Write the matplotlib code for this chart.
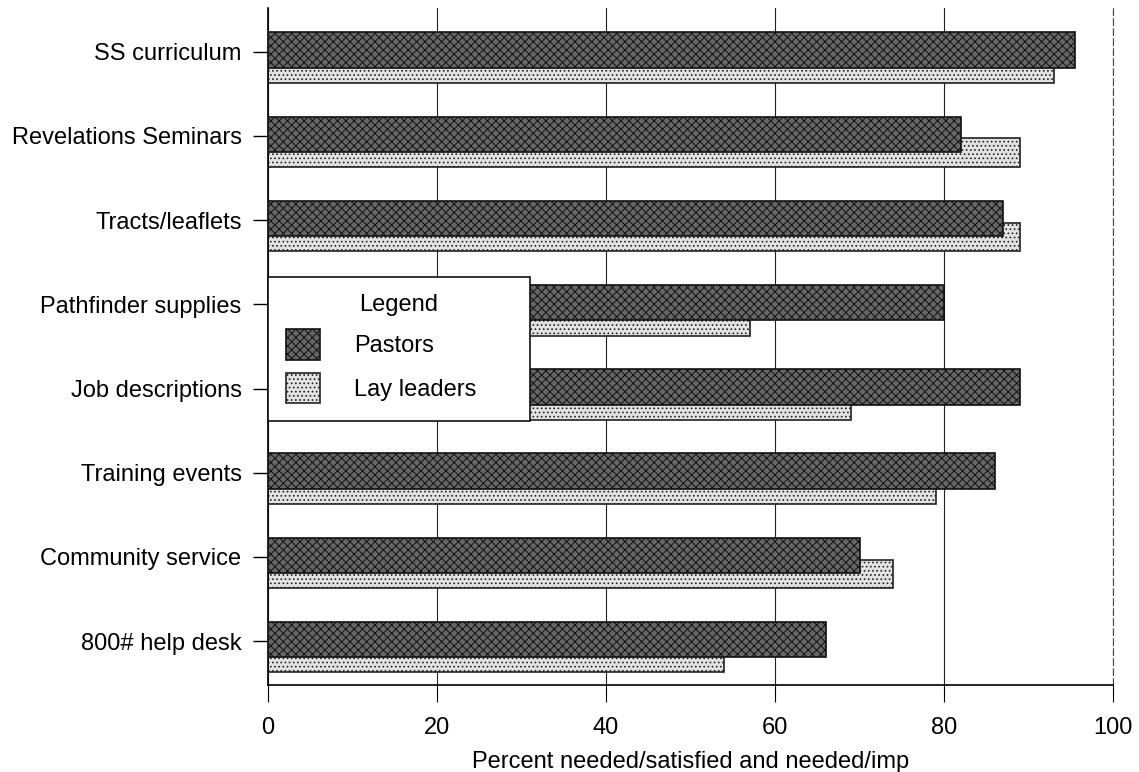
import matplotlib
matplotlib.use("Agg")
import matplotlib.pyplot as plt
import numpy as np

categories = ["SS curriculum", "Revelations Seminars", "Tracts/leaflets",
              "Pathfinder supplies", "Job descriptions", "Training events",
              "Community service", "800# help desk"]
pastors = [95.5, 82, 87, 80, 89, 86, 70, 66]
lay_leaders = [93, 89, 89, 57, 69, 79, 74, 54]
xticks = [0, 20, 40, 60, 80, 100]

FAM = ["Liberation Sans", "DejaVu Sans"]
plt.rcParams["hatch.linewidth"] = 0.7

fig = plt.figure(figsize=(11.39, 7.72), dpi=100)
ax = fig.add_axes([0.2353, 0.1127, 0.742, 0.877])

y = np.arange(len(categories))
ax.barh(y + 0.20, lay_leaders, height=0.34, color="#e2e2e2", edgecolor="#222222",
        hatch="....", linewidth=1.2, zorder=2, label="Lay leaders")
ax.barh(y - 0.02, pastors, height=0.42, color="#666666", edgecolor="#111111",
        hatch="xxxx", linewidth=1.2, zorder=3, label="Pastors")

ax.set_ylim(7.52, -0.52)
ax.set_xlim(0, 100)
ax.set_yticks(y)
ax.set_yticklabels(categories, family=FAM, fontsize=17)
ax.set_xticks(xticks)
ax.set_xticklabels([str(t) for t in xticks], family=FAM, fontsize=17)
ax.tick_params(axis="y", direction="out", length=11, width=1.0, pad=8)
ax.tick_params(axis="x", direction="out", length=12, width=0.8, pad=11)
ax.xaxis.grid(True, color="#222222", lw=0.8, zorder=1)
ax.set_axisbelow(True)
ax.spines["top"].set_visible(False)
ax.spines["right"].set_linestyle((0, (6, 3)))
ax.spines["right"].set_linewidth(0.8)
ax.spines["right"].set_color("#444444")
ax.spines["left"].set_linewidth(1.2)
ax.spines["bottom"].set_linewidth(1.2)
ax.set_xlabel("Percent needed/satisfied and needed/imp", family=FAM,
              fontsize=17, labelpad=9)

h, l = ax.get_legend_handles_labels()
leg = ax.legend(h[::-1], l[::-1], title="Legend", loc="upper left",
                bbox_to_anchor=(0, 0.389, 0.31, 0.214), mode="expand",
                prop={"family": FAM, "size": 17},
                title_fontproperties={"family": FAM, "size": 17},
                frameon=True, fancybox=False, framealpha=1, edgecolor="#111111",
                borderaxespad=0, borderpad=0.75, handlelength=1.44,
                handleheight=1.6, handletextpad=1.45, labelspacing=0.55)
leg.get_frame().set_linewidth(1.2)
leg.set_zorder(5)

fig.savefig("out.png", dpi=100)
